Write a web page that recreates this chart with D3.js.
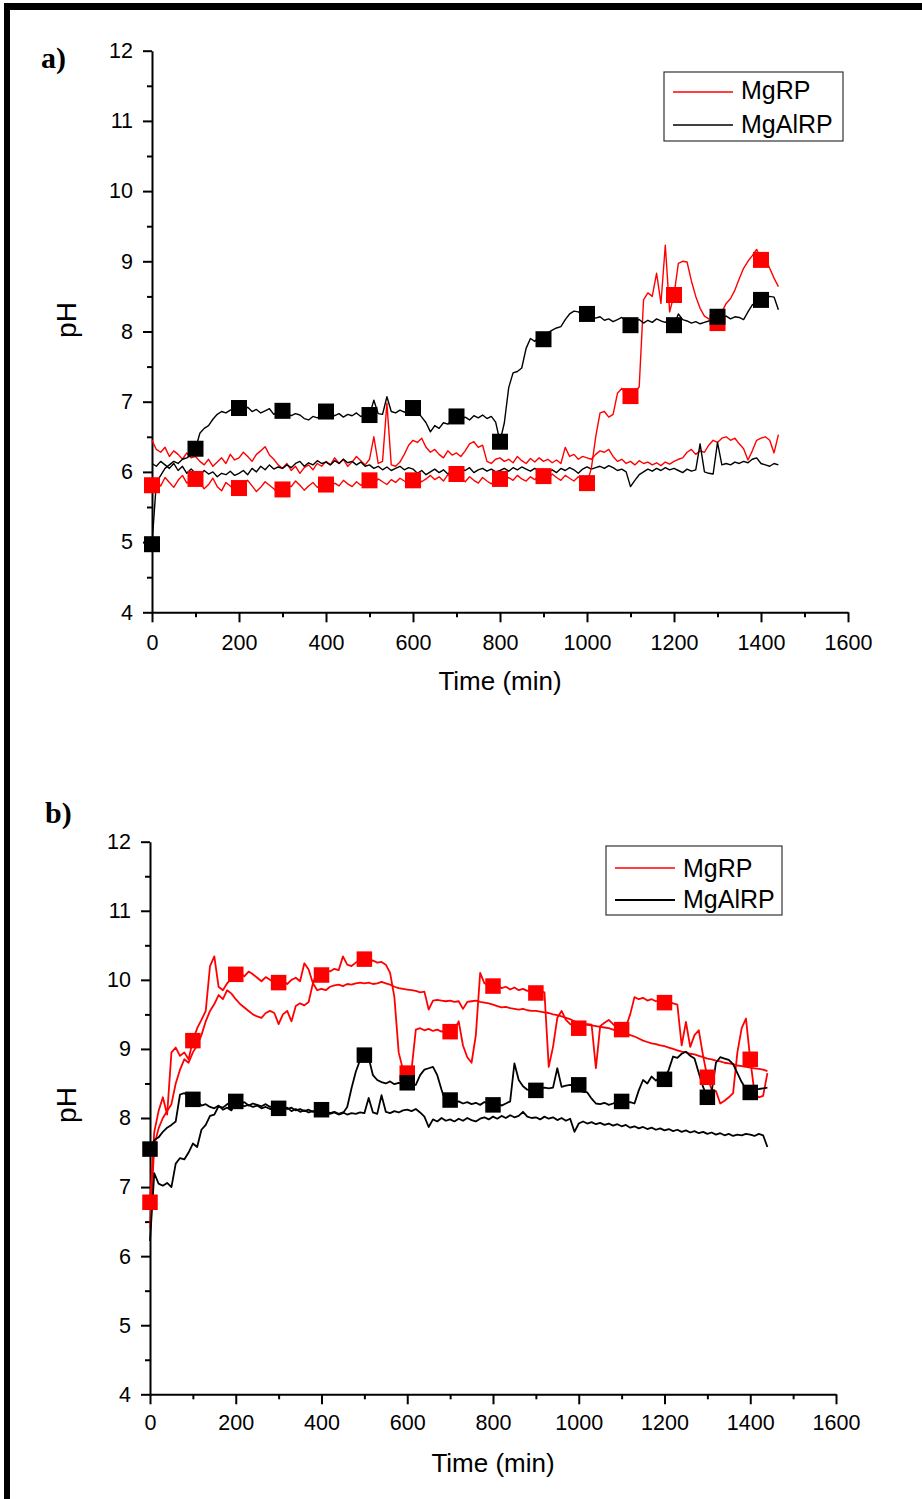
<!DOCTYPE html>
<html>
<head>
<meta charset="utf-8">
<script src="https://cdn.jsdelivr.net/npm/d3@7"></script>
<style>
  html, body { margin: 0; padding: 0; background: #fff; }
  svg { display: block; }
  .tick text { font-family: "Liberation Sans", Arial, sans-serif; font-size: 21.5px; fill: #000; }
  .axis path, .axis line { stroke: #000; stroke-width: 2; }
</style>
</head>
<body>
<svg id="fig" width="922" height="1499"></svg>
<script>
// pH logged every 10 minutes, 0 .. 1440 min
const sampleTimes = d3.range(0, 1441, 10);
// times at which the square symbols are placed
const markerTimes = [0, 100, 200, 300, 400, 500, 600, 700, 800, 900, 1000, 1100, 1200, 1300, 1400];
const xTicksMajor = [0, 200, 400, 600, 800, 1000, 1200, 1400, 1600];
const xTicksMinor = [100, 300, 500, 700, 900, 1100, 1300, 1500];
const yTicksMajor = [4, 5, 6, 7, 8, 9, 10, 11, 12];
const yTicksMinor = [4.5, 5.5, 6.5, 7.5, 8.5, 9.5, 10.5, 11.5];
const legendLabels = ["MgRP", "MgAlRP"];

// ---- panel a) ----
const aMgRP1 = [
  6.45, 6.32, 6.28, 6.35, 6.22, 6.30, 6.25, 6.18, 6.27, 6.20,
  6.22, 6.15, 6.10, 6.18, 6.08, 6.14, 6.20, 6.12, 6.25, 6.17,
  6.20, 6.28, 6.22, 6.15, 6.25, 6.30, 6.36, 6.24, 6.18, 6.10,
  6.05, 6.12, 6.02, 6.08, 5.98, 6.06, 6.10, 6.03, 6.12, 6.08,
  6.15, 6.10, 6.20, 6.12, 6.18, 6.08, 6.14, 6.22, 6.16, 6.10,
  6.18, 6.50, 6.12, 6.15, 6.98, 6.10, 6.08, 6.14, 6.25, 6.38,
  6.45, 6.42, 6.48, 6.35, 6.28, 6.32, 6.25, 6.20, 6.30, 6.24,
  6.27, 6.22, 6.30, 6.40, 6.43, 6.35, 6.38, 6.15, 6.12, 6.18,
  6.20, 6.15, 6.18, 6.13, 6.22, 6.16, 6.12, 6.19, 6.14, 6.20,
  6.15, 6.18, 6.13, 6.17, 6.12, 6.35, 6.22, 6.25, 6.18, 6.22,
  6.20, 6.18, 6.25, 6.30, 6.28, 6.32, 6.22, 6.15, 6.18, 6.12,
  6.15, 6.10, 6.16, 6.12, 6.14, 6.10, 6.13, 6.09, 6.14, 6.11,
  6.15, 6.18, 6.20, 6.28, 6.32, 6.25, 6.30, 6.28, 6.38, 6.45,
  6.42, 6.48, 6.50, 6.45, 6.48, 6.40, 6.33, 6.17, 6.30, 6.45,
  6.48, 6.50, 6.45, 6.27, 6.53
];
const aMgRP2 = [
  5.81, 5.86, 5.80, 5.92, 5.85, 5.78, 5.88, 5.95, 5.84, 5.90,
  5.90, 5.84, 5.76, 5.82, 5.91, 5.79, 5.73, 5.85, 5.80, 5.74,
  5.77, 5.83, 5.88, 5.80, 5.72, 5.78, 5.86, 5.81, 5.76, 5.70,
  5.75, 5.82, 5.79, 5.87, 5.81, 5.74, 5.80, 5.85, 5.78, 5.83,
  5.82, 5.77, 5.84, 5.80, 5.88, 5.83, 5.79, 5.86, 5.81, 5.85,
  5.88, 5.84, 5.90, 5.86, 5.82, 5.89, 5.85, 5.91, 5.87, 5.83,
  5.88, 5.92, 5.86, 5.90, 5.95, 5.89, 5.93, 5.87, 5.96, 5.92,
  5.97, 5.91, 5.86, 5.93, 5.88, 5.84, 5.92, 5.87, 5.83, 5.89,
  5.90, 5.86, 5.92, 5.88, 5.95, 5.90, 5.87, 5.93, 5.89, 5.96,
  5.94, 5.90, 5.97, 5.92, 5.88, 5.95, 5.91, 5.87, 5.93, 5.89,
  5.84, 6.05, 6.50, 6.84, 6.86, 6.78, 6.82, 7.12, 7.19, 7.10,
  7.08, 7.15, 7.21, 8.45, 8.55, 8.50, 8.83, 8.40, 9.23, 8.28,
  8.52, 8.97, 9.00, 8.99, 8.72, 8.50, 8.33, 8.22, 8.18, 8.14,
  8.12, 8.28, 8.40, 8.47, 8.59, 8.75, 8.90, 9.00, 9.08, 9.17,
  9.02, 9.05, 8.90, 8.76, 8.64
];
const aMgAlRP1 = [
  6.12, 6.08, 6.15, 6.10, 6.05, 6.12, 6.02, 6.08, 5.98, 6.04,
  5.98, 5.95, 6.02, 5.97, 6.00, 5.93, 5.98, 5.96, 6.01, 5.95,
  5.98, 6.02, 5.96, 6.05, 6.00, 6.08, 6.03, 6.10, 6.04, 6.07,
  6.05, 6.10, 6.06, 6.12, 6.15, 6.08, 6.13, 6.10, 6.16, 6.12,
  6.14, 6.10, 6.16, 6.12, 6.18, 6.13, 6.15, 6.10, 6.14, 6.08,
  6.10, 6.05, 6.08, 6.03, 6.07, 6.02, 6.05, 6.08, 6.03, 6.06,
  6.04, 5.98, 6.02, 5.96, 6.00, 6.04, 5.99, 6.03, 5.97, 6.02,
  6.00, 6.04, 6.02, 6.06, 5.99, 6.03, 6.05, 6.01, 6.04, 6.00,
  6.02, 6.05, 6.01, 6.06, 6.03, 6.07, 6.04, 6.01, 6.05, 6.02,
  6.04, 6.00, 6.03, 5.99, 6.05, 6.02, 6.06, 6.03, 5.98, 6.04,
  6.07, 6.04, 6.06, 6.08, 6.05, 6.09, 6.06, 6.02, 6.04, 6.00,
  5.79, 5.88, 5.96, 6.00, 6.04, 6.01, 6.05, 6.02, 6.06, 6.03,
  6.05, 6.02, 5.99, 6.04, 6.01, 6.03, 6.40, 6.00, 5.98, 5.97,
  6.42, 6.10, 6.12, 6.10, 6.14, 6.12, 6.15, 6.13, 6.18, 6.20,
  6.12, 6.10, 6.08, 6.12, 6.10
];
const aMgAlRP2 = [
  4.97, 5.85, 5.95, 6.05, 6.10, 6.15, 6.12, 6.18, 6.20, 6.24,
  6.33, 6.55, 6.62, 6.66, 6.75, 6.82, 6.86, 6.84, 6.88, 6.90,
  6.91, 6.88, 6.92, 6.86, 6.89, 6.84, 6.87, 6.90, 6.82, 6.86,
  6.87, 6.84, 6.80, 6.83, 6.81, 6.76, 6.74, 6.79, 6.77, 6.81,
  6.86, 6.82, 6.80, 6.83, 6.78, 6.82, 6.80, 6.84, 6.79, 6.81,
  6.81, 7.02, 6.83, 6.82, 7.07, 6.86, 6.84, 6.88, 6.85, 6.90,
  6.91, 6.86, 6.78, 6.70, 6.57, 6.66, 6.62, 6.70, 6.68, 6.73,
  6.79, 6.75, 6.78, 6.74, 6.80, 6.77, 6.81, 6.76, 6.79, 6.71,
  6.43, 6.70, 7.20, 7.41, 7.43, 7.48, 7.76, 7.90, 7.86, 7.92,
  7.89, 7.98, 8.02, 8.05, 8.07, 8.17, 8.25, 8.29, 8.28, 8.22,
  8.25, 8.22, 8.19, 8.21, 8.16, 8.18, 8.14, 8.17, 8.20, 8.15,
  8.09, 8.14, 8.17, 8.12, 8.16, 8.13, 8.18, 8.15, 8.13, 8.17,
  8.09, 8.25, 8.17, 8.15, 8.12, 8.14, 8.11, 8.13, 8.15, 8.18,
  8.21, 8.19, 8.22, 8.18, 8.21, 8.20, 8.17, 8.28, 8.38, 8.42,
  8.45, 8.48, 8.50, 8.49, 8.31
];

// ---- panel b) ----
const bMgRP1 = [
  6.40, 7.60, 7.85, 8.00, 8.10, 8.20, 8.50, 8.70, 8.85, 8.80,
  8.95, 9.05, 9.20, 9.40, 9.55, 9.65, 9.78, 9.72, 9.85, 9.80,
  9.72, 9.65, 9.60, 9.55, 9.50, 9.47, 9.45, 9.52, 9.55, 9.52,
  9.36, 9.50, 9.55, 9.40, 9.62, 9.66, 9.63, 9.68, 9.95, 9.85,
  9.87, 9.85, 9.90, 9.92, 9.93, 9.91, 9.94, 9.93, 9.95, 9.96,
  9.95, 9.96, 9.94, 9.95, 9.97, 9.95, 9.93, 9.90, 9.88, 9.87,
  9.86, 9.85, 9.84, 9.82, 9.83, 9.57, 9.70, 9.71, 9.70, 9.69,
  9.70, 9.68, 9.69, 9.58, 9.68, 9.69, 9.70, 9.68, 9.67, 9.66,
  9.64, 9.62, 9.60, 9.61, 9.59, 9.58, 9.57, 9.58, 9.56, 9.55,
  9.55, 9.54, 9.53, 9.52, 9.50, 9.49, 9.47, 9.45, 9.43, 9.40,
  9.38, 9.36, 9.35, 9.34, 9.33, 9.32, 9.31, 9.30, 9.28, 9.26,
  9.24, 9.22, 9.20, 9.18, 9.15, 9.12, 9.10, 9.08, 9.07, 9.05,
  9.04, 9.02, 9.00, 8.98, 8.96, 8.95, 8.93, 8.92, 8.90, 8.88,
  8.86, 8.85, 8.83, 8.82, 8.80, 8.79, 8.78, 8.76, 8.75, 8.74,
  8.73, 8.72, 8.71, 8.70, 8.68
];
const bMgRP2 = [
  6.78, 7.80, 8.10, 8.30, 8.05, 8.95, 9.02, 8.90, 8.95, 8.85,
  9.12, 9.30, 9.42, 9.55, 10.20, 10.34, 9.90, 9.85, 9.95, 10.02,
  10.08, 10.10, 10.05, 10.12, 10.08, 10.03, 9.98, 10.04, 10.00, 9.97,
  9.96, 9.99, 9.94, 10.00, 10.03, 9.98, 10.24, 10.15, 9.95, 10.12,
  10.07, 10.15, 10.12, 10.16, 10.14, 10.34, 10.22, 10.20, 10.25, 10.30,
  10.30, 10.27, 10.28, 10.25, 10.26, 10.22, 10.10, 9.75, 8.95, 8.70,
  8.65, 8.70, 9.28, 9.30, 9.27, 9.29, 9.26, 9.28, 9.25, 9.27,
  9.25, 9.28, 9.40, 9.05, 8.88, 8.80, 9.20, 10.10, 9.95, 9.92,
  9.91, 9.93, 9.88, 9.90, 9.86, 9.89, 9.85, 9.87, 9.84, 9.86,
  9.81, 9.84, 9.82, 8.74, 9.03, 9.45, 9.55, 9.42, 9.36, 9.32,
  9.30, 9.34, 9.36, 9.35, 8.72, 9.33, 9.38, 9.42, 9.36, 9.30,
  9.28, 9.32, 9.50, 9.75, 9.72, 9.74, 9.70, 9.72, 9.69, 9.71,
  9.67, 9.68, 9.66, 9.64, 9.05, 9.39, 9.03, 9.20, 9.27, 8.90,
  8.59, 8.41, 8.39, 8.21, 8.25, 8.30, 8.36, 8.95, 9.30, 9.44,
  8.85, 8.36, 8.30, 8.32, 8.65
];
const bMgAlRP1 = [
  6.22, 7.20, 7.05, 7.02, 7.06, 7.00, 7.34, 7.42, 7.40, 7.50,
  7.63, 7.58, 7.83, 7.90, 8.03, 8.05, 8.17, 8.15, 8.20, 8.24,
  8.22, 8.20, 8.23, 8.18, 8.21, 8.19, 8.17, 8.20, 8.16, 8.18,
  8.15, 8.17, 8.13, 8.15, 8.11, 8.13, 8.10, 8.12, 8.09, 8.11,
  8.08, 8.10, 8.07, 8.09, 8.06, 8.08, 8.05, 8.07, 8.06, 8.08,
  8.07, 8.29, 8.08, 8.06, 8.33, 8.09, 8.07, 8.10, 8.08, 8.11,
  8.12, 8.10, 8.13, 8.08, 8.02, 7.87, 7.98, 7.95, 8.00, 7.96,
  7.98, 7.95, 7.99, 7.96, 8.00, 7.97, 7.95, 7.99, 8.01, 7.98,
  8.02, 7.99, 8.03, 8.00, 8.04, 8.01, 8.03, 8.09, 8.02, 8.00,
  8.01, 7.98, 8.02, 7.99, 8.01, 7.97, 8.00, 7.96, 7.99, 7.80,
  7.92, 7.95, 7.92, 7.94, 7.91, 7.93, 7.90, 7.92, 7.89, 7.91,
  7.88, 7.90, 7.86, 7.88, 7.85, 7.87, 7.84, 7.86, 7.83, 7.85,
  7.82, 7.84, 7.81, 7.83, 7.80, 7.82, 7.79, 7.81, 7.78, 7.80,
  7.77, 7.79, 7.76, 7.78, 7.75, 7.77, 7.74, 7.76, 7.75, 7.77,
  7.76, 7.74, 7.77, 7.75, 7.58
];
const bMgAlRP2 = [
  7.55, 7.68, 7.72, 7.80, 7.86, 7.90, 7.95, 8.34, 8.36, 8.32,
  8.27, 8.25, 8.18, 8.20, 8.16, 8.14, 8.18, 8.12, 8.15, 8.11,
  8.24, 8.20, 8.17, 8.19, 8.16, 8.18, 8.14, 8.16, 8.13, 8.15,
  8.14, 8.12, 8.15, 8.10, 8.13, 8.09, 8.11, 8.08, 8.10, 8.07,
  8.12, 8.09, 8.06, 8.08, 8.05, 8.07, 8.16, 8.43, 8.67, 8.84,
  8.91, 8.87, 8.62, 8.55, 8.52, 8.50, 8.53, 8.49, 8.51, 8.48,
  8.51, 8.47, 8.48, 8.62, 8.70, 8.72, 8.74, 8.62, 8.41, 8.22,
  8.26, 8.22, 8.24, 8.21, 8.23, 8.20, 8.22, 8.19, 8.23, 8.21,
  8.19, 8.22, 8.18, 8.21, 8.24, 8.79, 8.55, 8.46, 8.41, 8.40,
  8.40, 8.42, 8.44, 8.43, 8.44, 8.72, 8.45, 8.47, 8.48, 8.46,
  8.48, 8.38, 8.37, 8.28, 8.21, 8.20, 8.22, 8.19, 8.21, 8.24,
  8.24, 8.22, 8.23, 8.21, 8.40, 8.55, 8.50, 8.60, 8.54, 8.60,
  8.56, 8.70, 8.89, 8.87, 8.93, 8.96, 8.90, 8.86, 8.65, 8.45,
  8.30, 8.38, 8.80, 8.88, 8.86, 8.84, 8.78, 8.65, 8.52, 8.42,
  8.37, 8.40, 8.42, 8.43, 8.44
];

const RED = "#ff0000", BLACK = "#000000";
const svg = d3.select("#fig");

// frame rule along the top and left edge of the page
svg.append("rect").attr("x", 4).attr("y", 3).attr("width", 918).attr("height", 7).attr("fill", "#000");
svg.append("rect").attr("x", 4).attr("y", 3).attr("width", 6).attr("height", 1496).attr("fill", "#000");

function panel(cfg) {
  const x = d3.scaleLinear().domain([0, 1600]).range([cfg.left, cfg.right]);
  const y = d3.scaleLinear().domain([4, 12]).range([cfg.bottom, cfg.top]);
  const g = svg.append("g");

  // minor ticks first, then the labelled axes over them
  g.append("g").attr("class", "axis").attr("transform", `translate(0,${cfg.bottom})`)
    .call(d3.axisBottom(x).tickValues(xTicksMinor).tickSize(5).tickSizeOuter(0).tickFormat(""))
    .call(s => s.select(".domain").remove());
  g.append("g").attr("class", "axis").attr("transform", `translate(${cfg.left},0)`)
    .call(d3.axisLeft(y).tickValues(yTicksMinor).tickSize(5).tickSizeOuter(0).tickFormat(""))
    .call(s => s.select(".domain").remove());
  g.append("g").attr("class", "axis").attr("transform", `translate(0,${cfg.bottom})`)
    .call(d3.axisBottom(x).tickValues(xTicksMajor).tickSize(10).tickSizeOuter(0).tickPadding(cfg.xPad).tickFormat(d3.format("d")));
  g.append("g").attr("class", "axis").attr("transform", `translate(${cfg.left},0)`)
    .call(d3.axisLeft(y).tickValues(yTicksMajor).tickSize(9).tickSizeOuter(0).tickPadding(10).tickFormat(d3.format("d")));

  // axis titles
  g.append("text").attr("x", (cfg.left + cfg.right) / 2).attr("y", cfg.xTitleY)
    .attr("text-anchor", "middle").attr("font-family", "Liberation Sans, Arial, sans-serif")
    .attr("font-size", 26).text("Time (min)");
  g.append("text").attr("transform", `translate(${cfg.yTitleX},${cfg.yTitleY}) rotate(-90)`)
    .attr("text-anchor", "middle").attr("font-family", "Liberation Sans, Arial, sans-serif")
    .attr("font-size", 28).text("pH");

  // panel letter
  g.append("text").attr("x", cfg.letterX).attr("y", cfg.letterY)
    .attr("font-family", "Liberation Serif, Times New Roman, serif").attr("font-weight", "bold")
    .attr("font-size", 30).text(cfg.letter);

  const line = d3.line().x((d, i) => x(sampleTimes[i])).y(d => y(d));
  const curves = [
    { values: cfg.series[0], color: RED },
    { values: cfg.series[1], color: BLACK },
    { values: cfg.series[2], color: RED },
    { values: cfg.series[3], color: BLACK }
  ];
  curves.forEach(c => {
    g.append("path").datum(c.values).attr("d", line)
      .attr("fill", "none").attr("stroke", c.color).attr("stroke-width", cfg.lw)
      .attr("stroke-linejoin", "round");
  });

  // square symbols on the second series of each sample (red under black)
  const sq = cfg.sq;
  [{ values: cfg.series[2], color: RED }, { values: cfg.series[3], color: BLACK }].forEach(c => {
    g.append("g").selectAll("rect").data(markerTimes).join("rect")
      .attr("x", t => x(t) - sq / 2)
      .attr("y", t => y(c.values[sampleTimes.indexOf(t)]) - sq / 2)
      .attr("width", sq).attr("height", sq).attr("fill", c.color);
  });

  // legend
  const L = cfg.legend;
  g.append("rect").attr("x", L.x).attr("y", L.y).attr("width", L.w).attr("height", L.h)
    .attr("fill", "#fff").attr("stroke", "#333").attr("stroke-width", 1.2);
  [RED, BLACK].forEach((col, i) => {
    const ly = L.y + L.rows[i];
    g.append("line").attr("x1", L.x + 9).attr("x2", L.x + 69).attr("y1", ly).attr("y2", ly)
      .attr("stroke", col).attr("stroke-width", L.lw[i]);
    g.append("text").attr("x", L.x + 77).attr("y", L.y + L.base[i])
      .attr("font-family", "Liberation Sans, Arial, sans-serif").attr("font-size", 25)
      .text(legendLabels[i]);
  });
}

panel({
  letter: "a)", letterX: 41, letterY: 68,
  left: 152, right: 848, top: 50.7, bottom: 612.3,
  xPad: 12, xTitleY: 690, yTitleX: 76, yTitleY: 320,
  lw: 1.4, sq: 16,
  series: [aMgRP1, aMgAlRP1, aMgRP2, aMgAlRP2],
  legend: { x: 664, y: 72, w: 179, h: 69, rows: [20, 53], base: [27, 61], lw: [1.3, 1.3] }
});

panel({
  letter: "b)", letterX: 45, letterY: 823,
  left: 150, right: 836, top: 841.7, bottom: 1394.3,
  xPad: 10, xTitleY: 1472, yTitleX: 76, yTitleY: 1105,
  lw: 1.8, sq: 15.5,
  series: [bMgRP1, bMgAlRP1, bMgRP2, bMgAlRP2],
  legend: { x: 606, y: 846, w: 176, h: 69, rows: [22, 54], base: [31, 62], lw: [1.6, 2] }
});
</script>
</body>
</html>
